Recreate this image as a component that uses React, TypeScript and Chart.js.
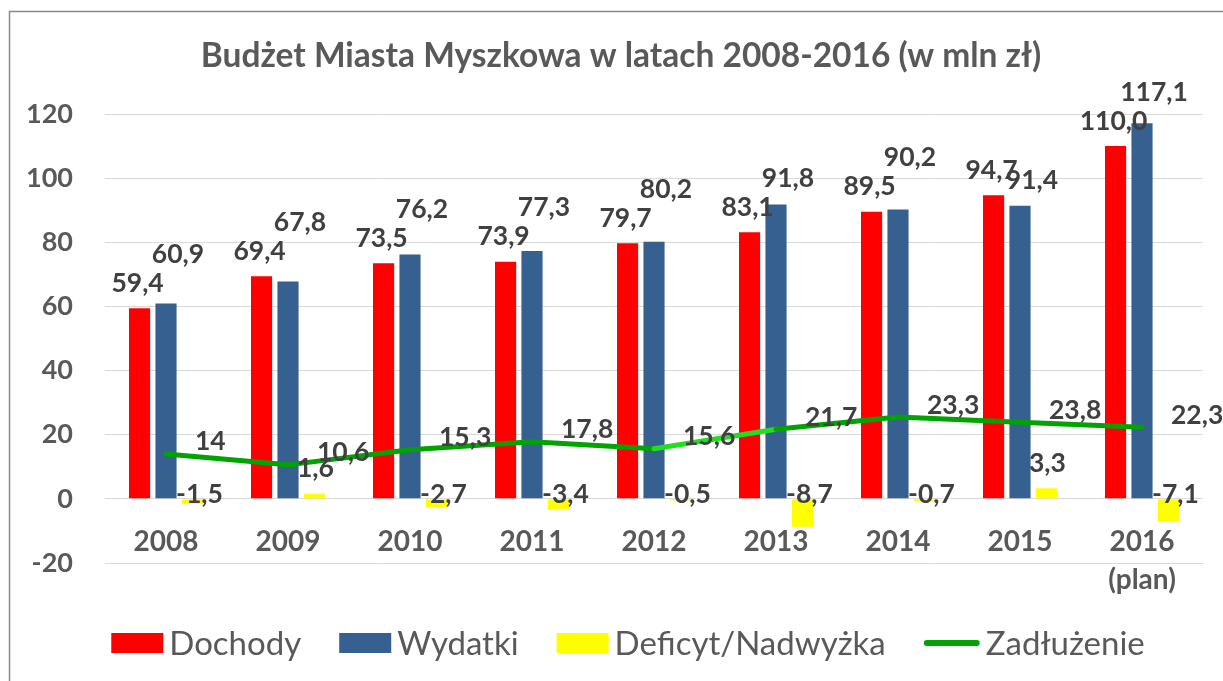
import React, { useEffect, useRef } from 'react';
import { Chart, registerables } from 'chart.js';

Chart.register(...registerables);

const chartTitle = 'Budżet Miasta Myszkowa w latach 2008-2016 (w mln zł)';
const categoryLabels: (string | string[])[] = ['2008', '2009', '2010', '2011', '2012', '2013', '2014', '2015', ['2016', '(plan)']];
const seriesNames = ['Dochody', 'Wydatki', 'Deficyt/Nadwyżka', 'Zadłużenie'];
const dochody = [59.4, 69.4, 73.5, 73.9, 79.7, 83.1, 89.5, 94.7, 110.0];
const wydatki = [60.9, 67.8, 76.2, 77.3, 80.2, 91.8, 90.2, 91.4, 117.1];
const deficyt = [-1.5, 1.6, -2.7, -3.4, -0.5, -8.7, -0.7, 3.3, -7.1];
const zadluzenie = [14, 10.6, 15.3, 17.8, 15.6, 21.7, 25.5, 23.9, 22.3];
const zadluzenieLabels = ['14', '10,6', '15,3', '17,8', '15,6', '21,7', '23,3', '23,8', '22,3'];
const yMin = -20;
const yMax = 120;
const yStep = 20;

const COLORS = ['#FF0000', '#35608F', '#FFFF00', '#00A300'];
const FONT = 'Lato, "Noto Sans", "DejaVu Sans", sans-serif';
const GRAY = '#595959';
const DARK = '#404040';

const fmt = (v: number) => v.toFixed(1).replace('.', ',');

function drawText(ctx: CanvasRenderingContext2D, s: string, x: number, cy: number, size: number, weight: string, color: string, align: CanvasTextAlign = 'center') {
  ctx.font = `${weight} ${size}px ${FONT}`;
  ctx.fillStyle = color;
  ctx.textAlign = align;
  ctx.textBaseline = 'alphabetic';
  ctx.fillText(s, x, cy + size * 0.36);
}

const framePlugin = {
  id: 'frame',
  beforeDraw(chart: any) {
    const ctx = chart.ctx as CanvasRenderingContext2D;
    ctx.save();
    ctx.fillStyle = '#FFFFFF';
    ctx.fillRect(0, 0, chart.width, chart.height);
    ctx.strokeStyle = '#8A8A8A';
    ctx.lineWidth = 1.5;
    ctx.beginPath();
    ctx.moveTo(9.5, chart.height);
    ctx.lineTo(9.5, 11.5);
    ctx.lineTo(chart.width, 11.5);
    ctx.stroke();
    ctx.restore();
  },
};

const LBL = 26.5;

const labelPlugin = {
  id: 'valueLabels',
  afterDatasetsDraw(chart: any) {
    const ctx = chart.ctx as CanvasRenderingContext2D;
    const m0 = chart.getDatasetMeta(0);
    const m1 = chart.getDatasetMeta(1);
    const m2 = chart.getDatasetMeta(2);
    const m3 = chart.getDatasetMeta(3);
    ctx.save();
    for (let i = 0; i < dochody.length; i++) {
      const d = m0.data[i];
      const w = m1.data[i];
      let yD = d.y - 26;
      let yW = w.y - 26;
      if (wydatki[i] >= dochody[i] - 2) yW = Math.min(yW, yD - 29);
      drawText(ctx, fmt(dochody[i]), d.x - 2, yD, LBL, 'bold', DARK);
      drawText(ctx, fmt(wydatki[i]), w.x + 12, yW, LBL, 'bold', DARK);
      const f = m2.data[i];
      if (deficyt[i] >= 0) drawText(ctx, fmt(deficyt[i]), f.x + 1, f.y - 26, LBL, 'bold', DARK);
      else drawText(ctx, fmt(deficyt[i]), f.x + 7, f.base - 6, LBL, 'bold', DARK);
      const p = m3.data[i];
      drawText(ctx, zadluzenieLabels[i], p.x + 29, p.y - 13, LBL, 'bold', DARK, 'left');
    }
    ctx.restore();
  },
};

const titleLegendPlugin = {
  id: 'titleLegend',
  afterDraw(chart: any) {
    const ctx = chart.ctx as CanvasRenderingContext2D;
    ctx.save();
    drawText(ctx, chartTitle, 621, 55, 33.5, 'bold', GRAY);

    const size = 33;
    ctx.font = `normal ${size}px ${FONT}`;
    const items = seriesNames.map((name, i) => {
      const markerW = i === 3 ? 56 : 52;
      return { name, color: COLORS[i], markerW, textW: ctx.measureText(name).width, line: i === 3 };
    });
    const gapText = 6;
    const gapItem = 38;
    const total = items.reduce((s, it) => s + it.markerW + gapText + it.textW, 0) + gapItem * (items.length - 1);
    let x = 628 - total / 2;
    const cy = 643;
    for (const it of items) {
      if (it.line) {
        ctx.strokeStyle = it.color;
        ctx.lineWidth = 6;
        ctx.lineCap = 'round';
        ctx.beginPath();
        ctx.moveTo(x + 3, cy);
        ctx.lineTo(x + it.markerW - 3, cy);
        ctx.stroke();
      } else {
        ctx.fillStyle = it.color;
        ctx.fillRect(x, cy - 10, it.markerW, 20);
      }
      x += it.markerW + gapText;
      drawText(ctx, it.name, x, cy, size, 'normal', GRAY, 'left');
      x += it.textW + gapItem;
    }
    ctx.restore();
  },
};

export default function App() {
  const ref = useRef<HTMLCanvasElement | null>(null);
  useEffect(() => {
    if (!ref.current) return;
    const tickFont = { family: FONT, size: 27, weight: 'bold' as const };
    const chart = new Chart(ref.current, {
      type: 'bar',
      data: {
        labels: categoryLabels as any,
        datasets: [
          { label: seriesNames[0], data: dochody, backgroundColor: COLORS[0], order: 1, barPercentage: 0.8, categoryPercentage: 0.65 },
          { label: seriesNames[1], data: wydatki, backgroundColor: COLORS[1], order: 1, barPercentage: 0.8, categoryPercentage: 0.65 },
          { label: seriesNames[2], data: deficyt, backgroundColor: COLORS[2], order: 1, barPercentage: 0.8, categoryPercentage: 0.65 },
          {
            type: 'line' as const,
            label: seriesNames[3],
            data: zadluzenie,
            borderColor: COLORS[3],
            backgroundColor: COLORS[3],
            borderWidth: 5,
            pointRadius: 0,
            tension: 0,
            borderCapStyle: 'round',
            borderJoinStyle: 'round',
            order: 0,
            segment: {
              borderColor: (c: any) => (c.p0DataIndex === 4 ? '#22DD22' : undefined),
            },
          } as any,
        ],
      },
      options: {
        responsive: false,
        animation: false,
        layout: { padding: { top: 114, left: 0, right: 20, bottom: 118 } },
        scales: {
          x: {
            position: { y: 0 } as any,
            grid: { display: false },
            border: { display: false },
            ticks: {
              font: { ...tickFont, size: 28, lineHeight: 1.35 },
              color: GRAY,
              padding: 16,
              maxRotation: 0,
              autoSkip: false,
            },
          },
          y: {
            min: yMin,
            max: yMax,
            ticks: { stepSize: yStep, font: tickFont, color: GRAY, padding: 32, callback: (v: any) => String(v) },
            grid: { color: '#D9D9D9', lineWidth: 1, drawTicks: false },
            border: { display: false },
            afterFit: (s: any) => {
              s.width = 105;
            },
          },
        },
        plugins: {
          legend: { display: false },
          title: { display: false },
          tooltip: { enabled: false },
        },
      },
      plugins: [framePlugin, labelPlugin, titleLegendPlugin],
    });
    return () => chart.destroy();
  }, []);
  return (
    <div style={{ position: 'absolute', left: 0, top: 0, width: 1223, height: 681, background: '#fff' }}>
      <canvas ref={ref} width={1223} height={681} style={{ display: 'block' }} />
    </div>
  );
}
